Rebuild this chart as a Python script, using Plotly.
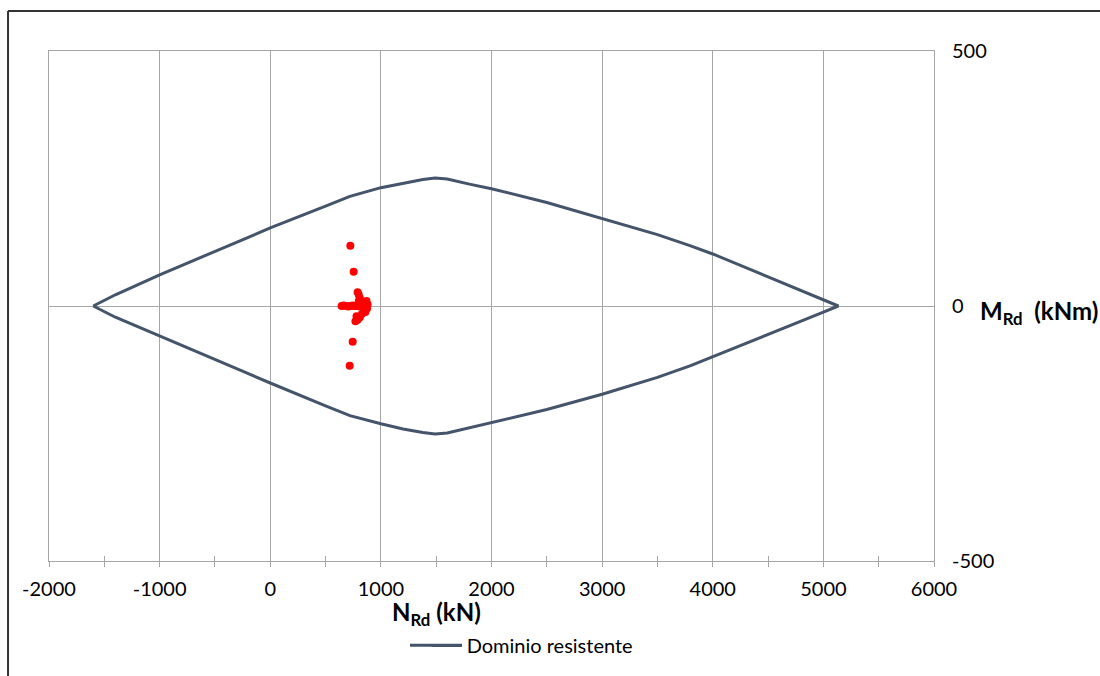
import plotly.graph_objects as go

# Interaction domain (N_Rd, M_Rd): upper branch left -> right, lower branch right -> left
N_upper = [-1600, -1400, -1000, -500, 0, 500, 720, 1000, 1200, 1380, 1490, 1600, 1800, 2000, 2500, 3000, 3500, 3800, 4000, 4500, 5000, 5135]
M_upper = [0, 22, 61, 107, 153, 196, 215, 232, 241, 248, 251, 249, 239, 230, 203, 172, 140, 118, 102, 57, 12, 0]
N_lower = [5135, 5000, 4500, 4000, 3800, 3500, 3000, 2500, 2000, 1800, 1600, 1490, 1380, 1200, 1000, 720, 500, 0, -500, -1000, -1400, -1600]
M_lower = [0, -12, -56, -100, -117, -140, -173, -203, -229, -239, -249, -251, -248, -241, -231, -215, -196, -151, -105, -59, -22, 0]

# Design actions (N_Ed, M_Ed)
N_ed = [724, 754, 745, 718,
        645, 665, 685, 705, 725, 745, 765, 785, 805, 825, 845,
        790, 800, 810, 800,
        870, 880, 875, 860, 840, 850,
        780, 790, 810, 830, 770]
M_ed = [118, 67, -70, -117,
        0, 1, 0, -1, 0, 1, 0, 0, -1, 0, 1,
        27, 22, 15, 10,
        10, 3, -5, -12, 8, -8,
        -20, -27, -22, -15, -30]

x_ticks = [-2000, -1000, 0, 1000, 2000, 3000, 4000, 5000, 6000]
y_ticks = [-500, 0, 500]

GRID = "#A6A6A6"
DOMAIN_COLOR = "#44546A"
FONT = "Lato"

fig = go.Figure()
fig.add_trace(go.Scatter(
    x=N_upper + N_lower, y=M_upper + M_lower,
    mode="lines", name="Dominio resistente",
    line=dict(color=DOMAIN_COLOR, width=3),
))
fig.add_trace(go.Scatter(
    x=N_ed, y=M_ed, mode="markers", showlegend=False,
    marker=dict(color="#FF0000", size=8),
))
# empty trace carrying the overlay axis used for the inner half of the tick marks
fig.add_trace(go.Scatter(x=[None], y=[None], xaxis="x2", showlegend=False, hoverinfo="skip"))

fig.update_layout(
    width=1100, height=676,
    margin=dict(l=49, r=166, t=51, b=114),
    paper_bgcolor="white", plot_bgcolor="white",
    font=dict(family=FONT, color="black", size=20),
    showlegend=True,
    legend=dict(
        orientation="h", x=0.4267, y=-0.125, xanchor="left", yanchor="top",
        font=dict(family=FONT, size=20, color="black"), bgcolor="rgba(0,0,0,0)",
    ),
    xaxis=dict(
        range=[-2000, 6000], tickmode="array", tickvals=x_ticks,
        ticktext=[str(v) for v in x_ticks],
        showgrid=True, gridcolor=GRID, gridwidth=1,
        showline=True, linecolor=GRID, linewidth=1, mirror=True,
        zeroline=False,
        ticks="outside", ticklen=5, tickcolor=GRID, tickwidth=1,
        minor=dict(dtick=500, tick0=-2000, ticks="outside", ticklen=5, tickcolor=GRID, showgrid=False),
        ticklabelstandoff=5,
        tickfont=dict(family=FONT, size=20),
    ),
    xaxis2=dict(
        overlaying="x", anchor="y", range=[-2000, 6000],
        tick0=-2000, dtick=500, ticks="inside", ticklen=5, tickcolor=GRID,
        showticklabels=False, showgrid=False, showline=False, zeroline=False,
    ),
    yaxis=dict(
        range=[-500, 500], tickmode="array", tickvals=y_ticks,
        ticktext=[str(v) for v in y_ticks], side="right",
        showgrid=True, gridcolor=GRID, gridwidth=1,
        showline=True, linecolor=GRID, linewidth=1, mirror=True,
        zeroline=False, ticks="",
        ticklabelstandoff=13,
        tickfont=dict(family=FONT, size=20),
    ),
    annotations=[
        dict(text="<b>N<sub>Rd</sub> (kN)</b>", xref="paper", yref="paper",
             x=0.3853, y=-0.102, xanchor="left", yanchor="middle", showarrow=False,
             font=dict(family=FONT, size=24, color="black")),
        dict(text="<b>M<sub>Rd</sub>\u00a0 (kNm)</b>", xref="paper", yref="paper",
             x=1.050, y=0.487, xanchor="left", yanchor="middle", showarrow=False,
             font=dict(family=FONT, size=24, color="black")),
    ],
    shapes=[
        # chart frame (top and left edges)
        dict(type="line", xref="paper", yref="paper", x0=-0.0463, x1=1.25, y0=1.0786, y1=1.0786,
             line=dict(color="#333333", width=2)),
        dict(type="line", xref="paper", yref="paper", x0=-0.0463, x1=-0.0463, y0=1.0786, y1=-0.25,
             line=dict(color="#333333", width=2)),
        # longer legend key line
        dict(type="line", xref="paper", yref="paper", x0=0.4079, x1=0.4667, y0=-0.1653, y1=-0.1653,
             line=dict(color=DOMAIN_COLOR, width=3)),
    ],
)

fig.write_html("out.html")
